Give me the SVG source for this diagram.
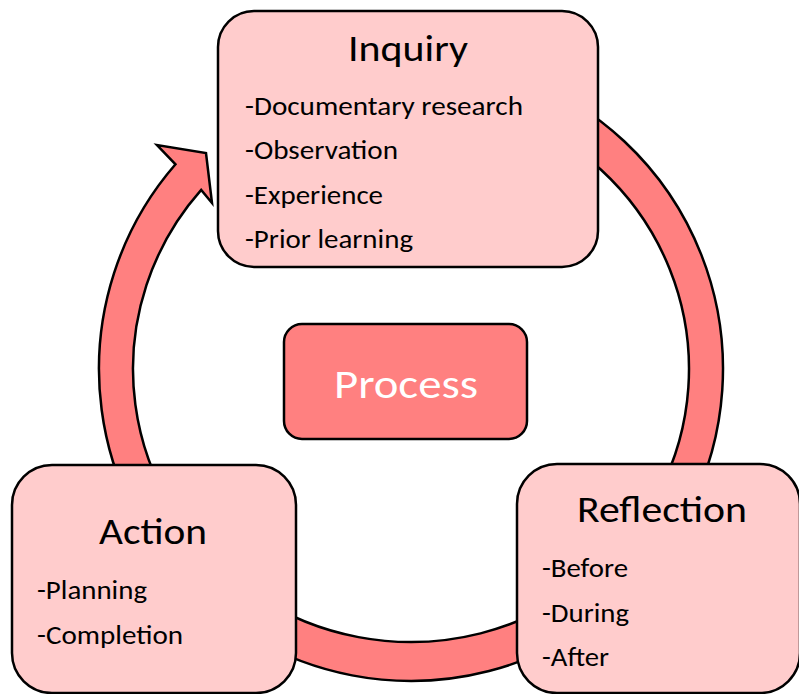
<svg xmlns="http://www.w3.org/2000/svg" width="799" height="694" viewBox="0 0 799 694">
<style>
.box{fill:#FFCCCC;stroke:#000;stroke-width:2.5}
.core{fill:#FF8080;stroke:#000;stroke-width:2.5}
.band{fill:#FF8080;stroke:#000;stroke-width:2.5;stroke-linejoin:miter}
text{font-family:Calibri,Carlito,Lato,"Open Sans",sans-serif;fill:#000}
.title{font-size:37.5px;text-anchor:middle}
.item{font-size:26px}
.ptext{font-size:41px;fill:#fff;text-anchor:middle}
</style>
<rect width="799" height="694" fill="#fff"/>
<g id="connectors">
<path class="band" d="M517.7,75.8 A312,312 0 1 1 175.5,164.3 L157,145 L206,153 L212,203 L201.2,189.9 A278,273 0 1 0 506.1,112.5 Z"/>
</g>
<g id="inquiry">
<rect class="box" x="218" y="11" width="380" height="256" rx="36" ry="36"/>
<text class="title" x="408" y="61" textLength="120" lengthAdjust="spacingAndGlyphs">Inquiry</text>
<text class="item" x="245" y="114.5" textLength="278" lengthAdjust="spacingAndGlyphs">-Documentary research</text>
<text class="item" x="245" y="159" textLength="153" lengthAdjust="spacingAndGlyphs">-Observation</text>
<text class="item" x="245" y="203.5" textLength="138" lengthAdjust="spacingAndGlyphs">-Experience</text>
<text class="item" x="245" y="248" textLength="168" lengthAdjust="spacingAndGlyphs">-Prior learning</text>
</g>
<g id="process">
<rect class="core" x="284" y="324" width="243" height="115" rx="18" ry="18"/>
<text class="ptext" x="406" y="398" textLength="144" lengthAdjust="spacingAndGlyphs">Process</text>
</g>
<g id="action">
<rect class="box" x="12" y="465" width="284" height="228" rx="40" ry="40"/>
<text class="title" x="153" y="544" textLength="108" lengthAdjust="spacingAndGlyphs">Action</text>
<text class="item" x="37" y="599" textLength="110" lengthAdjust="spacingAndGlyphs">-Planning</text>
<text class="item" x="37" y="644" textLength="146" lengthAdjust="spacingAndGlyphs">-Completion</text>
</g>
<g id="reflection">
<rect class="box" x="517" y="464" width="283" height="229" rx="40" ry="40"/>
<text class="title" x="662" y="522" textLength="170" lengthAdjust="spacingAndGlyphs">Reflection</text>
<text class="item" x="542" y="577" textLength="86" lengthAdjust="spacingAndGlyphs">-Before</text>
<text class="item" x="542" y="621.5" textLength="87" lengthAdjust="spacingAndGlyphs">-During</text>
<text class="item" x="542" y="666" textLength="67" lengthAdjust="spacingAndGlyphs">-After</text>
</g>
</svg>
